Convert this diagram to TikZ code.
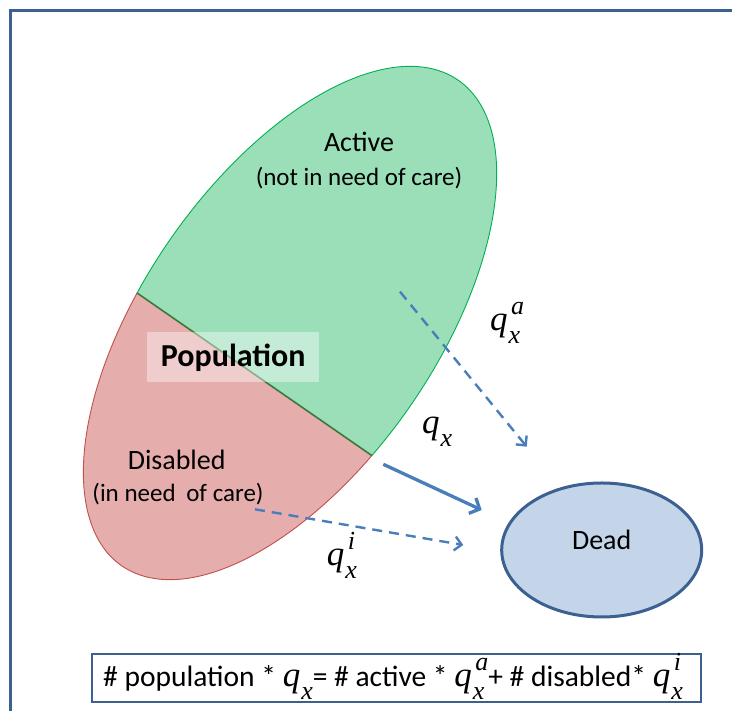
\documentclass[tikz,border=0pt]{standalone}
\usepackage{fontspec}
\setmainfont{Carlito}
\newfontfamily\qfont{Liberation Serif}
\usetikzlibrary{arrows.meta,shapes.geometric}

\definecolor{framebox}{RGB}{59,96,145}
\definecolor{activefill}{RGB}{155,223,185}
\definecolor{activeline}{RGB}{0,176,80}
\definecolor{disabledfill}{RGB}{230,173,173}
\definecolor{disabledline}{RGB}{192,80,77}
\definecolor{splitline}{RGB}{60,120,60}
\definecolor{deadfill}{RGB}{196,213,234}
\definecolor{flowblue}{RGB}{74,126,187}

% q with subscript x and an optional superscript, stacked
\newsavebox\qsupbox
\newsavebox\qsubbox
\newlength\qstackwd
\newcommand\qrate[1]{\mbox{\qfont\itshape\fontsize{35}{35}\selectfont q\kern1pt%
  \sbox\qsupbox{\fontsize{26}{26}\selectfont\kern2.5pt #1}%
  \sbox\qsubbox{\fontsize{26}{26}\selectfont x}%
  \ifdim\wd\qsupbox>\wd\qsubbox \setlength\qstackwd{\wd\qsupbox}\else\setlength\qstackwd{\wd\qsubbox}\fi
  \rlap{\raisebox{16pt}{\usebox\qsupbox}}%
  \rlap{\raisebox{-13pt}{\usebox\qsubbox}}%
  \hspace*{\qstackwd}}}

\begin{document}
\begin{tikzpicture}[x=1pt,y=1pt,
  title/.style={inner sep=0pt, font=\fontsize{28}{32}\selectfont},
  note/.style={inner sep=0pt, font=\fontsize{25}{30}\selectfont},
  qlbl/.style={inner sep=0pt, anchor=base west},
  flow/.style={draw=flowblue, line width=3.3pt, -{Straight Barb[length=8pt,width=17pt]}},
  dflow/.style={draw=flowblue, line width=2.4pt, dash pattern=on 10pt off 7pt,
    -{Straight Barb[length=7pt,width=14pt]}},
  deadbox/.style={ellipse, draw=framebox, fill=deadfill, line width=3pt,
    minimum width=200pt, minimum height=134pt, inner sep=0pt,
    font=\fontsize{28}{32}\selectfont, text height=18pt, text depth=19.4pt},
  popbox/.style={fill=white, fill opacity=0.4, text opacity=1, inner sep=0pt,
    minimum width=171.7pt, minimum height=50pt,
    font=\fontsize{32}{36}\selectfont\bfseries, text height=22pt, text depth=3pt},
  formulabox/.style={draw=framebox, line width=2pt, minimum width=609pt,
    minimum height=47.7pt, inner sep=0pt}
]
\clip (0,0) rectangle (732,711);

% outer frame (continues past the right and lower edges)
\draw[framebox, line width=3.3pt] (10.7,-20) rectangle (760,700.3);

% population ellipse, split into active and disabled parts
\begin{scope}[shift={(290,388)}, rotate=55.3]
  \fill[activefill] (-102.2:295.4 and 146.1)
    arc[start angle=-102.2, end angle=102.2, x radius=295.4, y radius=146.1] -- cycle;
  \fill[disabledfill] (102.2:295.4 and 146.1)
    arc[start angle=102.2, end angle=257.8, x radius=295.4, y radius=146.1] -- cycle;
  \draw[activeline, line width=0.9pt] (-102.2:295.4 and 146.1)
    arc[start angle=-102.2, end angle=102.2, x radius=295.4, y radius=146.1];
  \draw[disabledline, line width=0.9pt] (102.2:295.4 and 146.1)
    arc[start angle=102.2, end angle=257.8, x radius=295.4, y radius=146.1];
  \draw[splitline, line width=1.6pt] (102.2:295.4 and 146.1) -- (257.8:295.4 and 146.1);
\end{scope}

% texts inside the population
\node[title, anchor=base] (active) at (359,559.3) {Active};
\node[note, anchor=base] (activenote) at (359,525) {(not in need of care)};
\node[title, anchor=base] (disabled) at (176.7,241) {Disabled};
\node[note, anchor=base] (disablednote) at (178,209.5) {(in need\hspace{5pt} of care)};
\node[popbox] (pop) at (233.2,353.7) {Population};

% dead state
\node[deadbox] (dead) at (601.7,161) {Dead};

% transitions
\coordinate (aStart) at (400,419.3);
\coordinate (aEnd) at (526.7,264.3);
\coordinate (xStart) at (383.3,246.7);
\coordinate (xEnd) at (481.7,201);
\coordinate (iStart) at (255,201.7);
\coordinate (iEnd) at (463.3,166);
\draw[dflow] (aStart) -- (aEnd);
\draw[flow] (xStart) -- (xEnd);
\draw[dflow] (iStart) -- (iEnd);

\node[qlbl] (qa) at (490,380) {\qrate{a}};
\node[qlbl] (qx) at (422,277) {\qrate{}};
\node[qlbl] (qi) at (326.7,145) {\qrate{i}};

% balance equation
\node[formulabox] (fbox) at (396.2,33.2) {};
\node[inner sep=0pt, font=\fontsize{29.5}{33}\selectfont, anchor=base west] (formula) at (103,24.3)
  {\# population * \qrate{}= \# active * \qrate{a}+ \# disabled* \qrate{i}};
\end{tikzpicture}
\end{document}
